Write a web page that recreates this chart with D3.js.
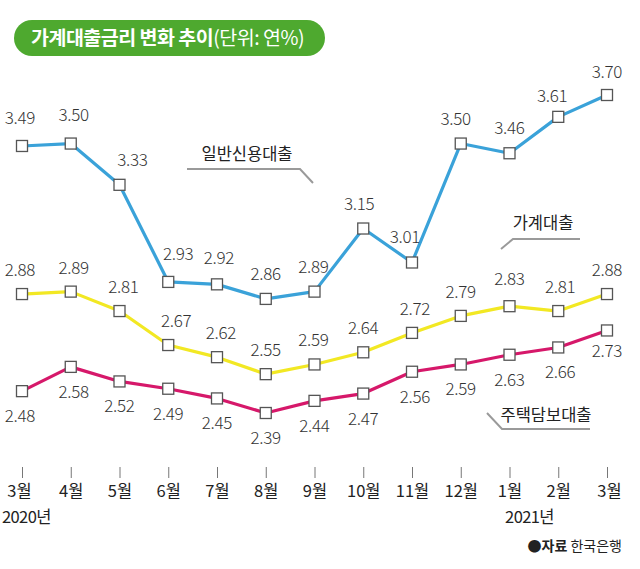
<!DOCTYPE html>
<html><head><meta charset="utf-8">
<script src="https://cdn.jsdelivr.net/npm/d3@7"></script>
<style>
html,body{margin:0;padding:0;background:#fff;}
text{font-family:"Noto Sans CJK KR","Noto Sans",sans-serif;}
</style></head>
<body>
<svg id="chart" width="640" height="569"></svg>
<script>
const months = ["3월","4월","5월","6월","7월","8월","9월","10월","11월","12월","1월","2월","3월"];
const yearLabels = [{idx:0, text:"2020년"}, {idx:10, text:"2021년"}];
const seriesNames = ["일반신용대출","가계대출","주택담보대출"];
const creditLoan = [3.49,3.50,3.33,2.93,2.92,2.86,2.89,3.15,3.01,3.50,3.46,3.61,3.70];
const householdLoan = [2.88,2.89,2.81,2.67,2.62,2.55,2.59,2.64,2.72,2.79,2.83,2.81,2.88];
const mortgageLoan = [2.48,2.58,2.52,2.49,2.45,2.39,2.44,2.47,2.56,2.59,2.63,2.66,2.73];
const titleBold = "가계대출금리 변화 추이";
const titleUnit = "(단위: 연%)";
const sourceLabel = "자료";
const sourceName = "한국은행";

// label nudges (layout only)
const creditNudge = [[-2,-3],[3,-4],[13,0],[10,-3],[2,-1],[0,0],[-1,0],[-4,0],[-7,0],[-5,0],[0,0],[-6,4],[0,2]];
const householdNudge = [[-2,0],[3,0],[4,0],[8,0],[4,0],[0,0],[-1,0],[0,0],[3,0],[0,0],[0,-3],[2,0],[0,0]];
const mortgageNudge = [[-2,0],[3,0],[0,0],[0,0],[0,0],[0,0],[0,0],[0,0],[3,0],[0,0],[0,0],[2,0],[0,-4]];

const svg = d3.select("#chart");
const x = d3.scalePoint().domain(d3.range(months.length)).range([22, 607]);
const y = d3.scaleLinear().domain([2.39, 3.70]).range([413, 95]);

// Title pill
svg.append("rect").attr("x",14).attr("y",20).attr("width",311).attr("height",36)
  .attr("rx",18).attr("fill","#4ea92f");
const tt = svg.append("text").attr("x",31).attr("y",45).attr("fill","#fff")
  .attr("font-size",19.5).attr("letter-spacing",-0.5);
tt.append("tspan").attr("font-weight",700).text(titleBold);
tt.append("tspan").attr("font-weight",400).text(titleUnit);

const series = [
  {name:seriesNames[0], values:creditLoan, color:"#3aa2d9", labelDy:-19, nudge:creditNudge},
  {name:seriesNames[1], values:householdLoan, color:"#f2e823", labelDy:-18, nudge:householdNudge},
  {name:seriesNames[2], values:mortgageLoan, color:"#d6186a", labelDy:31, nudge:mortgageNudge}
];

const line = d3.line().x((d,i)=>x(i)).y(d=>y(d));

series.forEach(s=>{
  svg.append("path").datum(s.values).attr("d",line)
    .attr("fill","none").attr("stroke",s.color).attr("stroke-width",3.2)
    .attr("stroke-linejoin","round");
});
series.forEach(s=>{
  svg.selectAll(null).data(s.values).enter().append("rect")
    .attr("x",(d,i)=>x(i)-5.5).attr("y",d=>y(d)-5.5)
    .attr("width",11).attr("height",11)
    .attr("fill","#fff").attr("stroke","#555").attr("stroke-width",1.3);
  svg.selectAll(null).data(s.values).enter().append("text")
    .attr("x",(d,i)=>x(i)+s.nudge[i][0]).attr("y",(d,i)=>y(d)+s.labelDy+s.nudge[i][1])
    .attr("text-anchor","middle").attr("font-size",17).attr("fill","#333")
    .attr("font-weight",300).attr("letter-spacing",-0.3)
    .text(d=>d.toFixed(2));
});

// Series name labels with leader lines
const leader = "#9a9a9a";
svg.append("text").attr("x",247).attr("y",160).attr("text-anchor","middle")
  .attr("font-size",16.5).attr("fill","#222").text(seriesNames[0]);
svg.append("path").attr("d","M187,169 L300,169 L313,183").attr("fill","none")
  .attr("stroke",leader).attr("stroke-width",2);

svg.append("text").attr("x",543).attr("y",229).attr("text-anchor","middle")
  .attr("font-size",16.5).attr("fill","#222").text(seriesNames[1]);
svg.append("path").attr("d","M501,249 L513,239 L580,239").attr("fill","none")
  .attr("stroke",leader).attr("stroke-width",2);

svg.append("text").attr("x",546).attr("y",421).attr("text-anchor","middle")
  .attr("font-size",16.5).attr("fill","#222").text(seriesNames[2]);
svg.append("path").attr("d","M487,413 L502,429 L590,429").attr("fill","none")
  .attr("stroke",leader).attr("stroke-width",2);

// X axis
const axisG = svg.append("g").attr("transform","translate(0,467)");
const ax = d3.axisBottom(x).tickSize(0).tickFormat(i=>months[i]);
axisG.call(ax);
axisG.select(".domain").remove();
axisG.selectAll(".tick line").remove();
axisG.selectAll(".tick").append("line").attr("y1",0).attr("y2",11)
  .attr("stroke","#777").attr("stroke-width",1);
axisG.selectAll(".tick text").attr("y",30).attr("dy",0)
  .attr("font-size",16.5).attr("fill","#222").attr("font-family",'"Noto Sans CJK KR",sans-serif')
  .attr("dx",(d,i)=> i===0 ? -3 : (i===months.length-1 ? 2 : 0));

yearLabels.forEach(yl=>{
  svg.append("text").attr("x", yl.idx===0 ? 2 : x(yl.idx)+20)
    .attr("y",523).attr("text-anchor", yl.idx===0 ? "start" : "middle")
    .attr("font-size",16.5).attr("fill","#222").attr("letter-spacing",-0.6).text(yl.text);
});

// Source
const st = svg.append("text").attr("x",622).attr("y",551).attr("text-anchor","end")
  .attr("font-size",14).attr("fill","#222");
st.append("tspan").text("●");
st.append("tspan").attr("font-weight",700).text(sourceLabel);
st.append("tspan").text(" " + sourceName);
</script>
</body></html>
